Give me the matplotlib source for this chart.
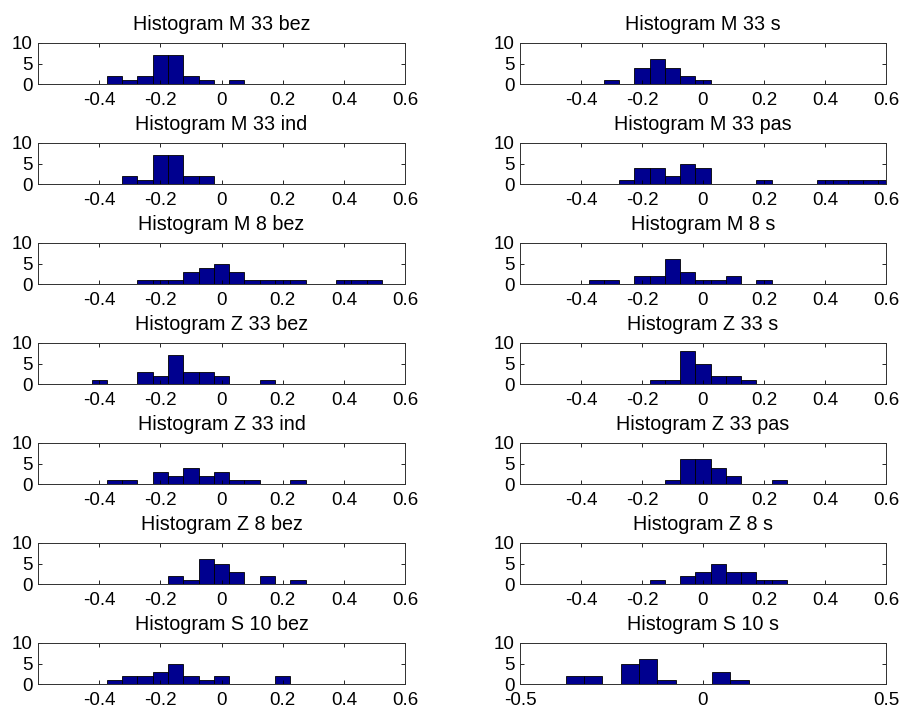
import numpy as np
import matplotlib
matplotlib.use("Agg")
import matplotlib.pyplot as plt

plt.rcParams['font.family'] = ['Liberation Sans', 'DejaVu Sans']
plt.rcParams['axes.unicode_minus'] = False

# bin centres shared by all histograms (bin width 0.05)
bin_centers = [-0.40, -0.35, -0.30, -0.25, -0.20, -0.15, -0.10, -0.05, 0.00,
               0.05, 0.10, 0.15, 0.20, 0.25, 0.30, 0.35, 0.40, 0.45, 0.50, 0.55, 0.60]
bin_width = 0.05

titles = ["Histogram M 33 bez", "Histogram M 33 s",
          "Histogram M 33 ind", "Histogram M 33 pas",
          "Histogram M 8 bez", "Histogram M 8 s",
          "Histogram Z 33 bez", "Histogram Z 33 s",
          "Histogram Z 33 ind", "Histogram Z 33 pas",
          "Histogram Z 8 bez", "Histogram Z 8 s",
          "Histogram S 10 bez", "Histogram S 10 s"]

m33_bez = [0, 2, 1, 2, 7, 7, 2, 1, 0, 1, 0, 0, 0, 0, 0, 0, 0, 0, 0, 0, 0]
m33_s   = [0, 0, 1, 0, 4, 6, 4, 2, 1, 0, 0, 0, 0, 0, 0, 0, 0, 0, 0, 0, 0]
m33_ind = [0, 0, 2, 1, 7, 7, 2, 2, 0, 0, 0, 0, 0, 0, 0, 0, 0, 0, 0, 0, 0]
m33_pas = [0, 0, 0, 1, 4, 4, 2, 5, 4, 0, 0, 0, 1, 0, 0, 0, 1, 1, 1, 1, 1]
m8_bez  = [0, 0, 0, 1, 1, 1, 3, 4, 5, 3, 1, 1, 1, 1, 0, 0, 1, 1, 1, 0, 0]
m8_s    = [0, 1, 1, 0, 2, 2, 6, 3, 1, 1, 2, 0, 1, 0, 0, 0, 0, 0, 0, 0, 0]
z33_bez = [1, 0, 0, 3, 2, 7, 3, 3, 2, 0, 0, 1, 0, 0, 0, 0, 0, 0, 0, 0, 0]
z33_s   = [0, 0, 0, 0, 0, 1, 1, 8, 5, 2, 2, 1, 0, 0, 0, 0, 0, 0, 0, 0, 0]
z33_ind = [0, 1, 1, 0, 3, 2, 4, 2, 3, 1, 1, 0, 0, 1, 0, 0, 0, 0, 0, 0, 0]
z33_pas = [0, 0, 0, 0, 0, 0, 1, 6, 6, 4, 2, 0, 0, 1, 0, 0, 0, 0, 0, 0, 0]
z8_bez  = [0, 0, 0, 0, 0, 2, 1, 6, 5, 3, 0, 2, 0, 1, 0, 0, 0, 0, 0, 0, 0]
z8_s    = [0, 0, 0, 0, 0, 1, 0, 2, 3, 5, 3, 3, 1, 1, 0, 0, 0, 0, 0, 0, 0]
s10_bez = [0, 1, 2, 2, 3, 5, 2, 1, 2, 0, 0, 0, 2, 0, 0, 0, 0, 0, 0, 0, 0]
s10_s   = [0, 2, 2, 0, 5, 6, 1, 0, 0, 3, 1, 0, 0, 0, 0, 0, 0, 0, 0, 0, 0]

series = [m33_bez, m33_s, m33_ind, m33_pas, m8_bez, m8_s, z33_bez, z33_s,
          z33_ind, z33_pas, z8_bez, z8_s, s10_bez, s10_s]

xticks_std = [-0.4, -0.2, 0, 0.2, 0.4, 0.6]
xticklabels_std = ["-0.4", "-0.2", "0", "0.2", "0.4", "0.6"]
xticks_last = [-0.5, 0, 0.5]
xticklabels_last = ["-0.5", "0", "0.5"]
yticks = [0, 5, 10]
yticklabels = ["0", "5", "10"]

W, H = 902, 711
fig = plt.figure(figsize=(W / 100, H / 100), dpi=100)

col_left = [38, 520]
col_right = [405, 886]
row_top0 = 42.7
row_h = 41.6
row_step = 100.0

bar_color = '#00008F'

for i, (title, counts) in enumerate(zip(titles, series)):
    r, c = divmod(i, 2)
    x0 = col_left[c]
    x1 = col_right[c]
    top = row_top0 + r * row_step
    ax = fig.add_axes([x0 / W, 1 - (top + row_h) / H, (x1 - x0) / W, row_h / H])
    ax.bar(bin_centers, counts, width=bin_width, color=bar_color,
           edgecolor='black', linewidth=0.6, align='center')
    last_right = (i == 13)
    if last_right:
        ax.set_xlim(-0.5, 0.5)
        ax.set_xticks(xticks_last)
        ax.set_xticklabels(xticklabels_last)
    else:
        ax.set_xlim(-0.6, 0.6)
        ax.set_xticks(xticks_std)
        ax.set_xticklabels(xticklabels_std)
    ax.set_ylim(0, 10)
    ax.set_yticks(yticks)
    ax.set_yticklabels(yticklabels)
    ax.tick_params(direction='in', length=3, width=0.6, top=True, right=True,
                   labelsize=13.5, colors='black')
    ax.tick_params(axis='x', pad=5.5)
    ax.tick_params(axis='y', pad=4)
    for s in ax.spines.values():
        s.set_linewidth(0.7)
        s.set_color('#303030')
    ax.set_title(title, fontsize=14.2, pad=9)

fig.savefig("out.png", dpi=100)
